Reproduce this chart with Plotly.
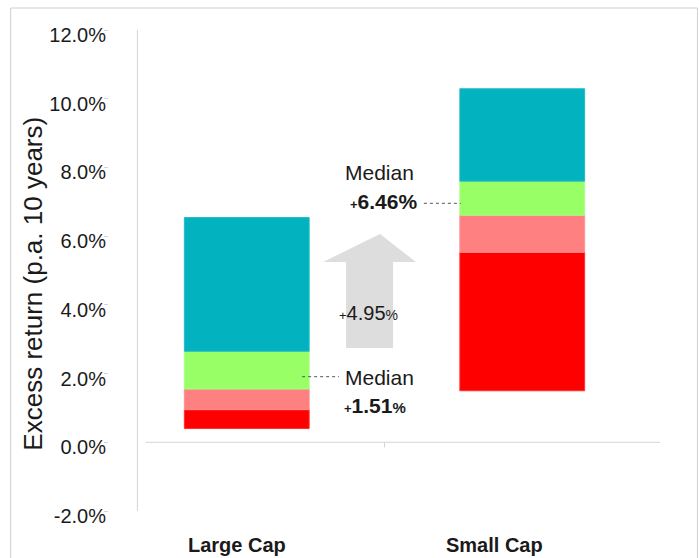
import plotly.graph_objects as go

# ---- data ----
categories = ["Large Cap", "Small Cap"]
seg_bottom = [0.40, 1.50]
red_top = [0.95, 5.53]
pink_top = [1.55, 6.61]
green_top = [2.65, 7.60]
teal_top = [6.54, 10.29]
medians = [1.51, 6.46]
y_ticks = [-2, 0, 2, 4, 6, 8, 10, 12]

FONT = "Arial, Liberation Sans, sans-serif"
TXT = "#1a1a1a"
GRID = "#d4d4d4"

xs = [0, 1]
W = 0.453

fig = go.Figure()
layers = [
    (seg_bottom, red_top, "#FF0000", "#FF3030"),
    (red_top, pink_top, "#FF8080", "#FF9090"),
    (pink_top, green_top, "#99FF66", "#A8FF80"),
    (green_top, teal_top, "#02B3BF", "#20BCC6"),
]
for lo, hi, col, edge in layers:
    fig.add_trace(go.Bar(
        x=xs, y=[h - l for l, h in zip(lo, hi)], base=lo, width=W,
        marker=dict(color=col, line=dict(color=edge, width=1)),
        showlegend=False, hoverinfo="skip",
    ))

shapes = []
# outer frame
shapes.append(dict(type="rect", xref="paper", yref="paper",
                   x0=(10 - 108.5) / 552, x1=(698 - 108.5) / 552,
                   y0=(511 - 570) / 481, y1=(511 - 8) / 481,
                   line=dict(color="#cfcfcf", width=1), layer="below"))
# vertical axis line
shapes.append(dict(type="line", xref="x", yref="y", x0=-0.397, x1=-0.397, y0=12, y1=-2,
                   line=dict(color=GRID, width=1), layer="below"))
# horizontal zero line
shapes.append(dict(type="line", xref="x", yref="y", x0=-0.368, x1=1.5, y0=0, y1=0,
                   line=dict(color=GRID, width=1), layer="below"))
shapes.append(dict(type="line", xref="x", yref="y", x0=0.5, x1=0.5, y0=0, y1=-0.15,
                   line=dict(color=GRID, width=1), layer="below"))
shapes.append(dict(type="line", xref="x", yref="y", x0=1.507, x1=1.503, y0=0.1, y1=-0.15,
                   line=dict(color=GRID, width=1), layer="below"))
# up arrow
tip_y, head_y, bot_y = 6.062, 5.247, 2.744
hl, hr, sl, sr, tx = 0.277, 0.614, 0.3605, 0.531, 0.4837
path = (f"M {sl},{bot_y} L {sl},{head_y} L {hl},{head_y} L {tx},{tip_y} "
        f"L {hr},{head_y} L {sr},{head_y} L {sr},{bot_y} Z")
shapes.append(dict(type="path", xref="x", yref="y", path=path,
                   fillcolor="#DDDDDD", line=dict(color="#DDDDDD", width=0), layer="below"))
# median leader lines
shapes.append(dict(type="line", xref="x", yref="y", x0=0.201, x1=0.335, y0=1.909, y1=1.909,
                   line=dict(color="#555555", width=1, dash="dot")))
shapes.append(dict(type="line", xref="x", yref="y", x0=0.643, x1=0.777, y0=6.956, y1=6.956,
                   line=dict(color="#555555", width=1, dash="dot")))

diff = medians[1] - medians[0]
annotations = [
    dict(x=0.482, y=7.838, text="Median", font=dict(size=21)),
    dict(x=0.498, y=6.994,
         text=f"<b><span style='font-size:13px'>+</span>{medians[1]:.2f}%</b>",
         font=dict(size=21)),
    dict(x=0.482, y=1.90, text="Median", font=dict(size=21)),
    dict(x=0.467, y=1.085,
         text=f"<b><span style='font-size:13px'>+</span>{medians[0]:.2f}"
              f"<span style='font-size:15px'>%</span></b>",
         font=dict(size=21)),
    dict(x=0.442, y=3.763,
         text=f"<span style='font-size:13px'>+</span>{diff:.2f}"
              f"<span style='font-size:14px'>%</span>",
         font=dict(size=20)),
]
for a in annotations:
    a.update(xref="x", yref="y", showarrow=False, xanchor="center", yanchor="middle")
    a["font"].update(family=FONT, color=TXT)
# category labels (below plot area)
for xc, off, cat in zip(xs, [-0.036, -0.10], categories):
    annotations.append(dict(xref="x", yref="paper", x=xc + off, y=(511 - 545) / 481,
                            text=f"<b>{cat}</b>", showarrow=False,
                            xanchor="center", yanchor="middle",
                            font=dict(family=FONT, size=20, color=TXT)))
annotations.append(dict(xref="paper", yref="paper", x=(32 - 108.5) / 552, y=(511 - 284) / 481,
                        xanchor="center", yanchor="middle",
                        text="Excess return (p.a. 10 years)", textangle=-90, showarrow=False,
                        font=dict(family=FONT, size=26, color=TXT)))

fig.update_layout(
    width=699, height=558,
    margin=dict(l=108.5, r=38.5, t=30, b=47, pad=0),
    plot_bgcolor="white", paper_bgcolor="white",
    barmode="overlay",
    shapes=shapes, annotations=annotations,
    font=dict(family=FONT, color=TXT),
)
fig.update_xaxes(range=[-0.5, 1.5], showticklabels=False, showgrid=False,
                 zeroline=False, showline=False, ticks="")
fig.update_yaxes(range=[-2, 12], tickvals=y_ticks,
                 ticktext=[f"{v:.1f}%" for v in y_ticks],
                 showgrid=False, zeroline=False, showline=False,
                 ticks="outside", ticklen=4, tickcolor=GRID, tickwidth=1,
                 tickfont=dict(size=20, family=FONT, color=TXT),
                 ticklabelstandoff=-6, ticklabelshift=5)

fig.write_html("out.html")
